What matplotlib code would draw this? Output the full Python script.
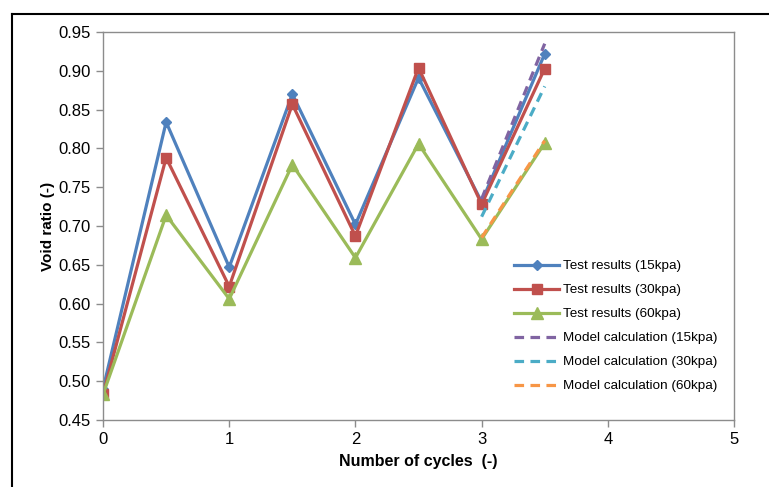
import matplotlib
matplotlib.use('Agg')
import matplotlib.pyplot as plt
from matplotlib.lines import Line2D

plt.rcParams['font.family'] = ['Liberation Sans', 'DejaVu Sans']

# 试验数据
cycles = [0, 0.5, 1, 1.5, 2, 2.5, 3, 3.5]
test_15 = [0.490, 0.834, 0.647, 0.870, 0.702, 0.891, 0.731, 0.922]
test_30 = [0.483, 0.788, 0.622, 0.857, 0.687, 0.904, 0.728, 0.903]
test_60 = [0.483, 0.714, 0.606, 0.779, 0.659, 0.806, 0.683, 0.807]

# 模型计算
model_x = [3, 3.5]
model_15 = [0.735, 0.935]
model_30 = [0.712, 0.880]
model_60 = [0.685, 0.810]

blue = '#4F81BD'
red = '#C0504D'
green = '#9BBB59'
purple = '#8064A2'
aqua = '#4BACC6'
orange = '#F79646'

fig = plt.figure(figsize=(7.69, 4.87), dpi=100)
ax = fig.add_axes([0.134, 0.1376, 0.8205, 0.7966])

dash = (0, (3, 2))
ax.plot(cycles, test_15, color=blue, lw=2.3, marker='D', ms=5, label='Test results (15kpa)')
ax.plot(cycles, test_30, color=red, lw=2.3, marker='s', ms=7, label='Test results (30kpa)')
ax.plot(cycles, test_60, color=green, lw=2.3, marker='^', ms=8, label='Test results (60kpa)')
ax.plot(model_x, model_15, color=purple, lw=2.3, ls=dash, label='Model calculation (15kpa)')
ax.plot(model_x, model_30, color=aqua, lw=2.3, ls=dash, label='Model calculation (30kpa)')
ax.plot(model_x, model_60, color=orange, lw=2.3, ls=dash, label='Model calculation (60kpa)')

ax.set_xlim(0, 5)
ax.set_ylim(0.45, 0.95)
ax.set_xticks([0, 1, 2, 3, 4, 5])
ax.set_yticks([0.45 + 0.05 * i for i in range(11)])
ax.set_yticklabels(['%.2f' % (0.45 + 0.05 * i) for i in range(11)])

for s in ax.spines.values():
    s.set_color('#8c8c8c')
    s.set_linewidth(1.0)
ax.tick_params(direction='out', length=5, width=1, color='#8c8c8c', labelsize=12, pad=4)

ax.set_xlabel('Number of cycles  (-)', fontsize=11.5, fontweight='bold', labelpad=5)
ax.set_ylabel('Void ratio (-)', fontsize=11, fontweight='bold', labelpad=2)

leg = ax.legend(loc='upper left', bbox_to_anchor=(0.66, 0.48), bbox_transform=fig.transFigure,
                frameon=False, fontsize=9.7, handlelength=3.3, handletextpad=0.3,
                labelspacing=0.86, borderpad=0)

# 外边框
fig.add_artist(Line2D([12 / 769, 1], [1 - 14 / 487, 1 - 14 / 487], color='black', lw=1.5,
                      transform=fig.transFigure))
fig.add_artist(Line2D([12 / 769, 12 / 769], [0, 1 - 14 / 487], color='black', lw=1.5,
                      transform=fig.transFigure))

fig.savefig('out.png', dpi=100)
